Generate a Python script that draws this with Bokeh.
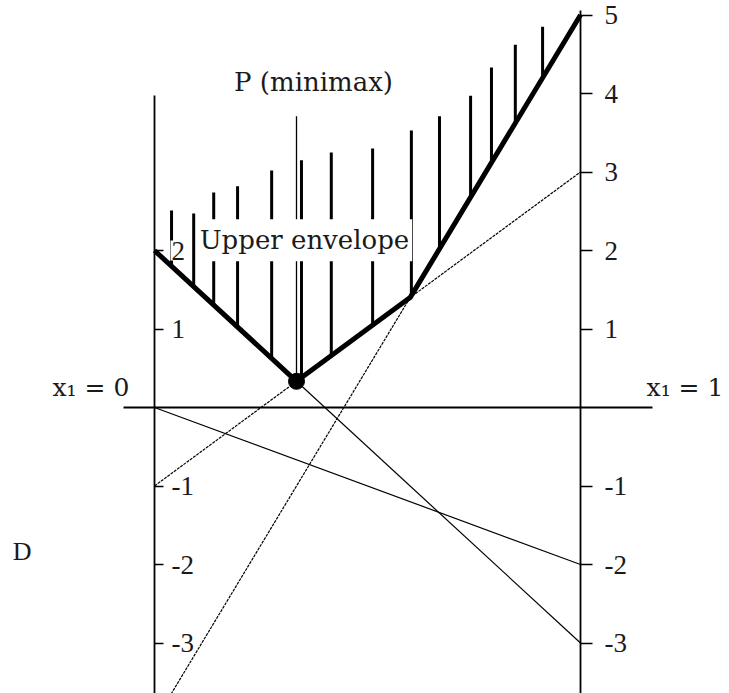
from bokeh.plotting import figure
from bokeh.models import LinearAxis, FixedTicker, Range1d, Label
from bokeh.core.properties import value
from bokeh.embed import file_html
from bokeh.resources import INLINE

# Pure-strategy payoff lines: value at x1 = 0 and at x1 = 1
line_start = [2, -1, 0, -4]
line_end = [-3, 3, -2, 5]
line_dash = ["solid", "3 1", "solid", "3 1"]

# Upper envelope vertices (max of the lines) and the minimax point
env_x = [0, 1 / 3, 0.6, 1]
env_y = [2, 1 / 3, 1.4, 5]
minimax_x = [1 / 3]
minimax_y = [1 / 3]
minimax_top = [3.71]

# Hatching above the upper envelope
hatch_x = [0.040, 0.092, 0.139, 0.195, 0.275, 0.345, 0.415,
           0.512, 0.603, 0.669, 0.742, 0.791, 0.847, 0.911]
hatch_bottom = [1.80, 1.54, 1.305, 1.025, 0.625, 0.38, 0.66,
                1.05, 1.43, 2.02, 2.68, 3.12, 3.62, 4.20]
hatch_top = [2.51, 2.47, 2.74, 2.82, 3.02, 3.15, 3.25,
             3.30, 3.53, 3.71, 3.97, 4.33, 4.62, 4.85]

# Tick values and labels of the two vertical axes
left_ticks = [2, 1, -1, -2, -3]
left_labels = ["2", "1", "-1", "-2", "-3"]
right_ticks = [5, 4, 3, 2, 1, -1, -2, -3]
right_labels = ["5", "4", "3", "2", "1", "-1", "-2", "-3"]

W, H = 729, 693
y_lo, y_hi = -(H - 407) / 78.5, 407 / 78.5
x_lo, x_hi = -154 / 426, (W - 154) / 426

p = figure(width=W, height=H, output_backend="svg", toolbar_location=None,
           x_axis_type=None, y_axis_type=None,
           x_range=Range1d(x_lo, x_hi), y_range=Range1d(y_lo, y_hi),
           min_border=0, outline_line_color=None)
p.xgrid.visible = False
p.ygrid.visible = False
p.background_fill_color = "white"

serif_num = "Liberation Serif"
serif_txt = "DejaVu Serif"
ink = "#1a1a1a"

# Horizontal axis through 0
h_axis = LinearAxis(fixed_location=0, bounds=(-0.073, 1.169),
                    ticker=FixedTicker(ticks=[]),
                    axis_line_width=1.8, axis_line_color="black",
                    major_tick_line_color=None, minor_tick_line_color=None,
                    major_label_text_font_size="0px")
p.add_layout(h_axis, "below")

# Vertical axis at x1 = 0 (labels drawn separately on a white box)
l_axis = LinearAxis(fixed_location=0, bounds=(y_lo, 3.97),
                    ticker=FixedTicker(ticks=left_ticks),
                    major_label_overrides={t: "" for t in left_ticks},
                    axis_line_width=1.8, axis_line_color="black",
                    major_tick_in=0, major_tick_out=9,
                    major_tick_line_width=1.5, major_tick_line_color="black",
                    minor_tick_line_color=None)
p.add_layout(l_axis, "right")

# Vertical axis at x1 = 1
r_axis = LinearAxis(fixed_location=1, bounds=(y_lo, 5.06),
                    ticker=FixedTicker(ticks=right_ticks),
                    major_label_overrides=dict(zip(right_ticks, right_labels)),
                    axis_line_width=1.8, axis_line_color="black",
                    major_tick_in=0, major_tick_out=12,
                    major_tick_line_width=1.5, major_tick_line_color="black",
                    minor_tick_line_color=None,
                    major_label_standoff=12,
                    major_label_text_font=serif_num,
                    major_label_text_font_size="27px",
                    major_label_text_color=ink)
p.add_layout(r_axis, "right")

# Thin payoff lines
for y0, y1, dash in zip(line_start, line_end, line_dash):
    p.line([0, 1], [y0, y1], line_color="black", line_width=1.2, line_dash=dash)

# Hatching
p.segment(x0=hatch_x, y0=hatch_bottom, x1=hatch_x, y1=hatch_top,
          line_color="black", line_width=3)

# Minimax vertical
p.segment(x0=minimax_x, y0=minimax_y, x1=minimax_x, y1=minimax_top,
          line_color="black", line_width=1.3)

# Left axis labels with white backing
p.text(x=[0] * len(left_ticks), y=left_ticks, text=left_labels,
       x_offset=16, text_align="left", text_baseline="middle",
       text_font=value(serif_num), text_font_size="27px", text_color=ink,
       background_fill_color="white", padding=1)

# Upper envelope and minimax point
p.line(env_x, env_y, line_color="black", line_width=5, line_join="round")
p.scatter(minimax_x, minimax_y, size=16, color="black")

# Text annotations
p.add_layout(Label(x=0.352, y=2.13, text="Upper envelope", text_align="center",
                   text_baseline="alphabetic", text_font=serif_txt,
                   text_font_size="26px", text_color=ink,
                   background_fill_color="white", padding=(3, 6)))
p.add_layout(Label(x=0.383, y=4.15, text="P  (minimax)", text_align="center",
                   text_baseline="alphabetic", text_font=serif_txt,
                   text_font_size="26px", text_color=ink))
p.add_layout(Label(x=-0.059, y=0.26, text="x\u2081 = 0", text_align="right",
                   text_baseline="alphabetic", text_font=serif_txt,
                   text_font_size="25px", text_color=ink))
p.add_layout(Label(x=1.155, y=0.26, text="x\u2081 = 1", text_align="left",
                   text_baseline="alphabetic", text_font=serif_txt,
                   text_font_size="25px", text_color=ink))
p.add_layout(Label(x=-0.333, y=-1.84, text="D", text_align="left",
                   text_baseline="alphabetic", text_font=serif_num,
                   text_font_size="26px", text_color=ink))

open("out.html", "w").write(file_html(p, INLINE))
